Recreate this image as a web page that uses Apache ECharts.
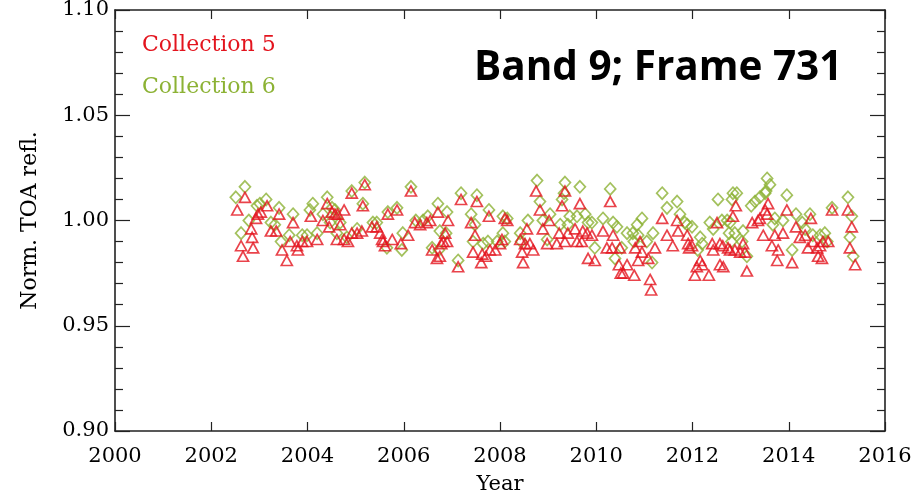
<!DOCTYPE html>
<html>
<head>
<meta charset="utf-8">
<script src="https://cdn.jsdelivr.net/npm/echarts@6/dist/echarts.min.js"></script>
<style>
  html, body { margin: 0; padding: 0; background: #ffffff; }
  #chart { width: 923px; height: 497px; }
</style>
</head>
<body>
<div id="chart"></div>
<script>
// Normalized TOA reflectance, MODIS Band 9, Frame 731
const xTicks = [2000, 2002, 2004, 2006, 2008, 2010, 2012, 2014, 2016];
const yTicks = [0.90, 0.95, 1.00, 1.05, 1.10];

// Collection 6 (diamonds)
const c6Years = [
  2002.51, 2002.70, 2002.62, 2002.78, 2002.95, 2003.01, 2003.14, 2003.24, 2003.32, 2003.41,
  2003.70, 2003.45, 2003.62, 2003.89, 2003.99, 2004.20, 2004.11, 2004.05, 2004.41, 2004.32,
  2004.51, 2004.57, 2004.47, 2004.68, 2004.61, 2004.82, 2004.92, 2005.19, 2005.15, 2005.03,
  2005.36, 2005.44, 2005.65, 2005.96, 2005.67, 2005.86, 2006.15, 2005.98, 2006.25, 2006.40,
  2006.50, 2006.71, 2006.59, 2006.75, 2006.88, 2006.90, 2006.73, 2007.19, 2007.52, 2007.40,
  2007.48, 2007.44, 2007.13, 2007.77, 2007.65, 2007.75, 2008.06, 2008.15, 2008.06, 2008.10,
  2007.94, 2008.58, 2008.42, 2008.44, 2008.77, 2008.83, 2008.89, 2009.04, 2008.98, 2009.35,
  2009.33, 2009.29, 2009.25, 2009.41, 2009.66, 2009.45, 2009.60, 2009.77, 2009.83, 2009.91,
  2009.97, 2010.29, 2010.14, 2010.35, 2010.43, 2010.64, 2010.76, 2010.53, 2010.39, 2010.78,
  2010.87, 2010.85, 2010.95, 2011.05, 2011.18, 2011.16, 2011.37, 2011.47, 2011.68, 2011.74,
  2011.84, 2011.89, 2011.99, 2012.16, 2012.20, 2012.11, 2012.53, 2012.36, 2012.43, 2012.61,
  2012.72, 2012.78, 2012.84, 2012.92, 2012.82, 2012.76, 2012.81, 2012.88, 2013.05, 2013.03,
  2013.13, 2013.22, 2013.30, 2013.40, 2013.51, 2013.55, 2013.61, 2013.53, 2013.67, 2013.71,
  2013.88, 2013.96, 2014.07, 2014.15, 2014.28, 2014.34, 2014.44, 2014.50, 2014.65, 2014.75,
  2014.80, 2014.90, 2015.23, 2015.31, 2015.27, 2015.34
];
const c6Values = [
  1.011, 1.016, 0.994, 1.000, 1.007, 1.008, 1.010, 0.999, 0.998, 1.006,
  1.003, 0.990, 0.993, 0.993, 0.993, 0.994, 1.008, 1.005, 1.011, 1.003,
  1.006, 1.005, 0.999, 0.999, 0.994, 0.992, 1.014, 1.018, 1.008, 0.996,
  0.999, 0.999, 0.987, 0.986, 1.004, 1.006, 1.016, 0.994, 1.000, 1.000,
  1.002, 1.008, 0.987, 0.995, 0.994, 1.004, 0.986, 1.013, 1.012, 1.003,
  0.998, 0.990, 0.981, 1.005, 0.989, 0.990, 1.002, 1.001, 0.994, 0.990,
  0.990, 1.000, 0.994, 0.990, 1.019, 1.009, 1.000, 1.003, 0.991, 1.018,
  1.013, 1.010, 0.998, 0.998, 1.016, 1.002, 1.002, 1.003, 0.999, 0.999,
  0.987, 1.015, 1.001, 0.999, 0.997, 0.994, 0.994, 0.987, 0.982, 0.990,
  0.993, 0.998, 1.001, 0.990, 0.994, 0.980, 1.013, 1.006, 1.009, 1.003,
  0.999, 0.998, 0.997, 0.992, 0.989, 0.986, 1.010, 0.999, 0.996, 1.000,
  1.000, 0.999, 1.013, 1.013, 1.010, 0.994, 0.990, 0.994, 0.995, 0.990,
  0.983, 1.007, 1.009, 1.011, 1.013, 1.020, 1.017, 1.014, 0.998, 1.001,
  1.000, 1.012, 0.986, 1.003, 0.999, 0.996, 1.003, 0.993, 0.993, 0.994,
  0.990, 1.006, 1.011, 1.002, 0.992, 0.983
];

// Collection 5 (triangles)
const c5Years = [
  2002.54, 2002.70, 2002.62, 2002.66, 2002.83, 2002.85, 2002.87, 2002.93, 2002.97, 2003.03,
  2003.16, 2003.24, 2003.35, 2003.41, 2003.70, 2003.47, 2003.64, 2003.57, 2003.78, 2003.89,
  2003.99, 2003.80, 2004.20, 2004.07, 2004.41, 2004.32, 2004.51, 2004.57, 2004.63, 2004.76,
  2004.45, 2004.68, 2004.61, 2004.76, 2004.84, 2004.92, 2005.19, 2005.15, 2004.92, 2005.03,
  2005.13, 2005.34, 2005.44, 2005.51, 2005.55, 2005.57, 2005.76, 2005.61, 2005.94, 2005.67,
  2005.86, 2006.15, 2006.09, 2006.23, 2006.34, 2006.48, 2006.55, 2006.71, 2006.59, 2006.69,
  2006.82, 2006.90, 2006.92, 2006.86, 2006.78, 2006.75, 2007.19, 2007.52, 2007.40, 2007.48,
  2007.44, 2007.13, 2007.77, 2007.63, 2007.61, 2007.71, 2007.79, 2007.90, 2008.00, 2008.04,
  2008.10, 2008.15, 2008.56, 2008.42, 2008.52, 2008.46, 2008.62, 2008.69, 2008.48, 2008.75,
  2008.83, 2008.89, 2009.02, 2008.98, 2009.18, 2009.35, 2009.29, 2009.23, 2009.41, 2009.35,
  2009.66, 2009.56, 2009.72, 2009.60, 2009.70, 2009.81, 2009.91, 2009.83, 2009.97, 2010.29,
  2010.14, 2010.35, 2010.22, 2010.33, 2010.49, 2010.47, 2010.51, 2010.56, 2010.64, 2010.81,
  2010.91, 2010.87, 2010.95, 2011.08, 2010.79, 2011.12, 2011.14, 2011.22, 2011.37, 2011.47,
  2011.59, 2011.68, 2011.70, 2011.89, 2011.93, 2011.91, 2011.99, 2012.16, 2012.09, 2012.20,
  2012.05, 2012.34, 2012.51, 2012.41, 2012.43, 2012.57, 2012.63, 2012.74, 2012.90, 2012.84,
  2012.78, 2012.88, 2013.05, 2013.09, 2012.99, 2013.13, 2012.57, 2012.64, 2013.24, 2013.36,
  2013.40, 2013.51, 2013.57, 2013.55, 2013.47, 2013.71, 2013.65, 2013.78, 2013.76, 2013.88,
  2013.96, 2014.07, 2014.15, 2014.23, 2014.34, 2014.40, 2014.46, 2014.50, 2014.59, 2014.61,
  2014.69, 2014.71, 2014.82, 2014.65, 2014.90, 2015.23, 2015.31, 2015.27, 2015.38
];
const c5Values = [
  1.005, 1.011, 0.988, 0.983, 0.996, 0.992, 0.987, 1.001, 1.003, 1.004,
  1.007, 0.995, 0.995, 1.003, 0.999, 0.986, 0.990, 0.981, 0.988, 0.990,
  0.990, 0.986, 0.991, 1.002, 1.008, 1.000, 1.004, 1.003, 1.003, 1.005,
  0.997, 0.998, 0.991, 0.991, 0.990, 1.013, 1.017, 1.007, 0.994, 0.994,
  0.995, 0.997, 0.997, 0.994, 0.991, 0.990, 0.991, 0.988, 0.989, 1.003,
  1.005, 1.014, 0.993, 0.999, 0.998, 0.999, 1.000, 1.004, 0.986, 0.982,
  0.990, 0.990, 1.000, 0.994, 0.989, 0.983, 1.010, 1.009, 0.999, 0.993,
  0.985, 0.978, 1.002, 0.984, 0.980, 0.983, 0.986, 0.986, 0.989, 0.991,
  1.001, 1.000, 0.996, 0.991, 0.989, 0.985, 0.989, 0.986, 0.980, 1.014,
  1.005, 0.996, 1.000, 0.989, 0.989, 1.014, 1.007, 0.994, 0.994, 0.990,
  1.008, 0.996, 0.995, 0.990, 0.990, 0.994, 0.993, 0.982, 0.981, 1.009,
  0.995, 0.993, 0.987, 0.987, 0.987, 0.979, 0.975, 0.975, 0.979, 0.987,
  0.990, 0.981, 0.985, 0.982, 0.974, 0.972, 0.967, 0.987, 1.001, 0.993,
  0.988, 1.000, 0.995, 0.993, 0.987, 0.989, 0.988, 0.981, 0.978, 0.979,
  0.974, 0.974, 0.999, 0.989, 0.986, 0.989, 0.988, 0.987, 1.007, 1.002,
  0.986, 0.986, 0.989, 0.985, 0.985, 0.976, 0.979, 0.978, 0.999, 1.000,
  1.001, 1.005, 1.008, 1.003, 0.993, 0.993, 0.988, 0.986, 0.981, 0.994,
  1.005, 0.980, 0.997, 0.992, 0.993, 0.987, 1.001, 0.990, 0.987, 0.983,
  0.982, 0.990, 0.990, 0.988, 1.005, 1.005, 0.997, 0.987, 0.979
];

const seriesNames = ['Collection 5', 'Collection 6'];
const titleText = 'Band 9; Frame 731';

const C5_COLOR = '#e3141e';
const C6_COLOR = '#8cb234';
const SERIF = '"DejaVu Serif", "Liberation Serif", serif';
const AXIS_COLOR = '#222';

function pairs(xs, ys) { return xs.map((x, i) => [x, ys[i]]); }

const chart = echarts.init(document.getElementById('chart'), null, { renderer: 'canvas' });

const baseX = {
  type: 'value', min: xTicks[0], max: xTicks[xTicks.length - 1], interval: 2,
  axisLine: { show: true, onZero: false, lineStyle: { color: AXIS_COLOR, width: 1.6 } },
  axisTick: { show: true, inside: true, length: 9, lineStyle: { color: AXIS_COLOR, width: 1.2 } },
  splitLine: { show: false }
};
const baseY = {
  type: 'value', min: yTicks[0], max: yTicks[yTicks.length - 1], interval: 0.05,
  axisLine: { show: true, onZero: false, lineStyle: { color: AXIS_COLOR, width: 1.6 } },
  axisTick: { show: true, inside: true, length: 15, lineStyle: { color: AXIS_COLOR, width: 1.2 } },
  minorTick: { show: true, splitNumber: 5, length: 8, lineStyle: { color: AXIS_COLOR, width: 1.2 } },
  splitLine: { show: false }, minorSplitLine: { show: false }
};

chart.setOption({
  animation: false,
  backgroundColor: '#ffffff',
  title: {
    text: titleText, left: 469, top: 43,
    textStyle: { fontFamily: '"Open Sans", Lato, sans-serif', fontWeight: 'bold', fontSize: 40.5, color: '#000' }
  },
  grid: { left: 115, right: 38, top: 10, bottom: 66, containLabel: false, outerBoundsMode: 'none' },
  xAxis: [
    Object.assign({}, baseX, {
      position: 'bottom',
      name: 'Year', nameLocation: 'middle', nameGap: 43,
      nameTextStyle: { fontFamily: SERIF, fontSize: 21, color: '#000' },
      axisLabel: { margin: 15, fontFamily: SERIF, fontSize: 21, color: '#000',
        formatter: v => String(v) }
    }),
    Object.assign({}, baseX, { position: 'top', axisLabel: { show: false } })
  ],
  yAxis: [
    Object.assign({}, baseY, {
      position: 'left',
      name: 'Norm. TOA refl.', nameLocation: 'middle', nameGap: 74, nameRotate: 90,
      nameTextStyle: { fontFamily: SERIF, fontSize: 22, color: '#000' },
      axisLabel: { margin: 6, fontFamily: SERIF, fontSize: 21, color: '#000',
        formatter: v => v.toFixed(2) }
    }),
    Object.assign({}, baseY, { position: 'right', axisLabel: { show: false } })
  ],
  graphic: [
    { type: 'text', left: 142, top: 34,
      style: { text: seriesNames[0], fill: C5_COLOR, font: '22px ' + SERIF } },
    { type: 'text', left: 142, top: 76,
      style: { text: seriesNames[1], fill: C6_COLOR, font: '22px ' + SERIF } }
  ],
  series: [
    {
      name: seriesNames[1], type: 'scatter', xAxisIndex: 0, yAxisIndex: 0,
      symbol: 'diamond', symbolSize: [11, 12],
      itemStyle: { color: 'rgba(0,0,0,0)', borderColor: C6_COLOR, borderWidth: 1.7 },
      data: pairs(c6Years, c6Values)
    },
    {
      name: seriesNames[0], type: 'scatter', xAxisIndex: 0, yAxisIndex: 0,
      symbol: 'triangle', symbolSize: [11, 10],
      itemStyle: { color: 'rgba(0,0,0,0)', borderColor: C5_COLOR, borderWidth: 1.7 },
      data: pairs(c5Years, c5Values)
    }
  ]
});
</script>
</body>
</html>
